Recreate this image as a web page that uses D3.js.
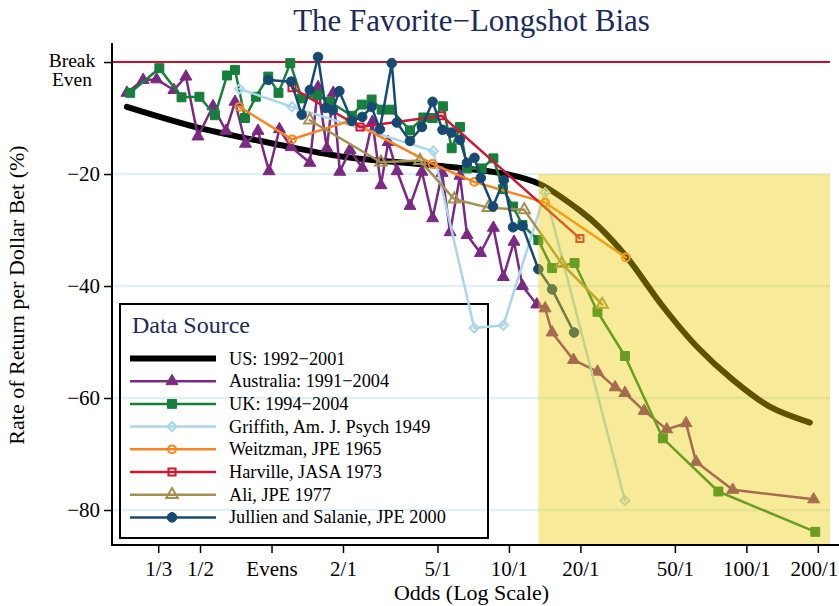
<!DOCTYPE html>
<html>
<head>
<meta charset="utf-8">
<script src="https://cdn.jsdelivr.net/npm/d3@7"></script>
<style>
  body { margin: 0; background: #fff; }
  svg { display: block; font-family: "Liberation Serif", "Times New Roman", serif; }
</style>
</head>
<body>
<svg id="chart"></svg>
<script>
const d3 = window.d3;

const width = 839, height = 606;

// [odds, rate of return %]
const us = [[0.246,-8.0],[0.5,-11.8],[1,-14.5],[2,-16.9],[5,-18.5],[10,-20.1],[13.5,-21.8],[20,-26.6],
  [24.2,-29.6],[31.3,-34.8],[44.6,-43.7],[61.8,-50.8],[88,-56.8],[126,-61.6],[185,-64.4]];

const australia = [[0.246,-5.5],[0.288,-3.2],[0.328,-3.1],[0.388,-5.0],[0.436,-2.6],[0.490,-13.3],[0.567,-7.9],
  [0.643,-12.3],[0.702,-7.1],[0.777,-14.6],[0.877,-12.3],[0.976,-19.5],[1.08,-12.0],[1.21,-15.2],[1.45,-18.0],
  [1.57,-4.5],[1.71,-15.4],[1.82,-5.5],[1.94,-19.6],[2.14,-15.7],[2.41,-18.9],[2.66,-10.7],[2.89,-22.0],
  [3.10,-14.3],[3.38,-19.5],[3.83,-25.7],[4.30,-19.6],[4.77,-27.9],[5.23,-19.8],[5.65,-30.4],[6.22,-20.3],
  [6.66,-30.9],[7.59,-34.1],[8.60,-29.6],[9.47,-38.4],[10.5,-32.1],[11.4,-40.0],[13.1,-43.3],[14.2,-44.0],
  [15.2,-48.3],[18.7,-53.2],[23.6,-55.3],[28.0,-58.1],[30.8,-59.1],[37.1,-62.3],[46.2,-65.6],[55.7,-64.5],
  [61.4,-71.4],[87.6,-76.4],[192,-78.1]];

const uk = [[0.254,-5.5],[0.337,-1.1],[0.418,-6.3],[0.497,-6.2],[0.578,-9.5],[0.650,-2.4],[0.702,-1.4],
  [0.773,-10.0],[0.860,-6.2],[0.969,-2.6],[1.07,-5.5],[1.20,-0.2],[1.34,-6.5],[1.56,-5.9],[1.76,-7.1],
  [2.18,-9.6],[2.40,-7.6],[2.64,-6.7],[2.91,-8.5],[3.19,-8.5],[3.83,-12.2],[4.36,-9.9],[4.77,-10.0],
  [5.28,-7.9],[5.74,-15.4],[6.22,-11.6],[6.66,-19.0],[7.68,-19.0],[8.60,-17.2],[9.44,-22.7],[10.4,-25.8],
  [11.4,-29.1],[13.3,-31.8],[15.2,-36.8],[18.9,-35.9],[23.6,-44.6],[30.8,-52.5],[44.5,-67.2],[76.2,-76.7],
  [195,-83.9]];

const griffith = [[0.733,-4.8],[1.22,-8.0],[4.80,-15.9],[7.14,-47.5],[9.47,-47.0],[14.2,-23.3],[30.8,-78.3]];

const weitzman = [[0.732,-8.0],[1.22,-13.8],[2.14,-10.5],[4.76,-18.2],[7.14,-21.4],[14.2,-25.1],[31.1,-34.9]];

const harville = [[1.22,-4.6],[2.36,-11.6],[5.21,-9.6],[19.9,-31.5]];

const ali = [[1.45,-10.4],[2.89,-17.9],[4.22,-17.6],[5.89,-24.5],[8.19,-26.0],[11.6,-26.4],[16.7,-36.0],[24.7,-43.3]];

const jullien = [[0.969,-3.2],[1.21,-3.5],[1.34,-9.4],[1.45,-5.0],[1.57,0.9],[1.69,-8.2],[1.81,-8.6],[1.93,-5.2],
  [2.18,-10.5],[2.41,-9.8],[2.64,-8.0],[2.86,-12.0],[3.21,-0.2],[3.37,-10.8],[3.83,-14.1],[4.30,-11.6],
  [4.77,-7.1],[5.25,-12.1],[5.72,-12.6],[6.22,-13.9],[6.65,-18.0],[7.16,-17.1],[7.61,-20.7],[8.57,-25.8],
  [9.51,-21.1],[10.4,-29.5],[11.4,-29.3],[13.3,-37.0],[15.2,-40.6],[18.8,-48.3]];

const oddsTicks = [1/3, 1/2, 1, 2, 5, 10, 20, 50, 100, 200];
const oddsLabels = ["1/3", "1/2", "Evens", "2/1", "5/1", "10/1", "20/1", "50/1", "100/1", "200/1"];
const returnTicks = [0, -20, -40, -60, -80];

// shaded longshot region: odds beyond this, returns below -20
const shadeOdds = 13.3;
const shadeReturn = -20;

const series = [
  { name: "US: 1992\u22122001", data: us, color: "#000000", width: 6, curve: true },
  { name: "Australia: 1991\u22122004", data: australia, color: "#7b2a83", symbol: d3.symbolTriangle, size: 62, fill: true },
  { name: "UK: 1994\u22122004", data: uk, color: "#157f3b", symbol: d3.symbolSquare, size: 80, fill: true },
  { name: "Griffith, Am. J. Psych 1949", data: griffith, color: "#a9d6e8", symbol: d3.symbolSquare, size: 42, rotate: 45 },
  { name: "Weitzman, JPE 1965", data: weitzman, color: "#f7841f", symbol: d3.symbolCircle, size: 48 },
  { name: "Harville, JASA 1973", data: harville, color: "#cc1a36", symbol: d3.symbolSquare, size: 50 },
  { name: "Ali, JPE 1977", data: ali, color: "#a58f50", symbol: d3.symbolTriangle, size: 58 },
  { name: "Jullien and Salanie, JPE 2000", data: jullien, color: "#174a72", symbol: d3.symbolCircle, size: 72, fill: true }
];

const svg = d3.select("#chart")
  .attr("width", width)
  .attr("height", height);

const x = d3.scaleLog().domain([0.215, 225]).range([113, 830]);
const y = d3.scaleLinear().domain([-86.25, 3.4]).range([545, 43]);

// gridlines
svg.append("g")
  .selectAll("line")
  .data(returnTicks.filter(d => d < 0))
  .join("line")
  .attr("x1", x.range()[0])
  .attr("x2", x.range()[1])
  .attr("y1", d => y(d))
  .attr("y2", d => y(d))
  .attr("stroke", "#e2f0f4")
  .attr("stroke-width", 2.5);

// legend frame sits under the data, it has no fill
const legendX = 120, legendY = 304;
svg.append("rect")
  .attr("x", legendX)
  .attr("y", legendY)
  .attr("width", 368)
  .attr("height", 234)
  .attr("fill", "none")
  .attr("stroke", "#000")
  .attr("stroke-width", 2);

// break even line
svg.append("line")
  .attr("x1", x.range()[0])
  .attr("x2", x.range()[1])
  .attr("y1", y(0))
  .attr("y2", y(0))
  .attr("stroke", "#c8102e")
  .attr("stroke-width", 2);

function markerPath(s) {
  return d3.symbol().type(s.symbol).size(s.size)();
}

function markerTransform(s, px, py) {
  return `translate(${px},${py})` + (s.rotate ? ` rotate(${s.rotate})` : "");
}

const line = d3.line().x(d => x(d[0])).y(d => y(d[1]));
const smoothLine = d3.line().x(d => x(d[0])).y(d => y(d[1])).curve(d3.curveCatmullRom.alpha(0.5));

series.forEach(s => {
  const g = svg.append("g");
  g.append("path")
    .datum(s.data)
    .attr("d", s.curve ? smoothLine : line)
    .attr("fill", "none")
    .attr("stroke", s.color)
    .attr("stroke-width", s.width || 2.5)
    .attr("stroke-linejoin", "round")
    .attr("stroke-linecap", "round");

  if (s.symbol) {
    g.selectAll("path.mark")
      .data(s.data)
      .join("path")
      .attr("class", "mark")
      .attr("d", markerPath(s))
      .attr("transform", d => markerTransform(s, x(d[0]), y(d[1])))
      .attr("fill", s.fill ? s.color : "none")
      .attr("stroke", s.color)
      .attr("stroke-width", s.fill ? 1 : 2);
  }
});

// yellow overlay on the longshot region
svg.append("rect")
  .attr("x", x(shadeOdds))
  .attr("y", y(shadeReturn))
  .attr("width", x.range()[1] - x(shadeOdds))
  .attr("height", y.range()[0] - y(shadeReturn))
  .attr("fill", "rgb(236,206,0)")
  .attr("fill-opacity", 0.4);

// axes
const xAxis = svg.append("g")
  .attr("transform", `translate(0,${y.range()[0]})`)
  .call(d3.axisBottom(x)
    .tickValues(oddsTicks)
    .tickFormat((d, i) => oddsLabels[i])
    .tickSize(8)
    .tickSizeOuter(0)
    .tickPadding(8));
xAxis.select(".domain").remove();
xAxis.selectAll(".tick line").attr("stroke", "#000").attr("stroke-width", 1.5);
xAxis.selectAll("text").attr("font-size", 21).attr("font-family", "Liberation Serif").attr("fill", "#000");
// keep the last label inside the window
xAxis.selectAll(".tick text").filter(d => d === 200).attr("dx", -4);

const yAxis = svg.append("g")
  .attr("transform", "translate(112,0)")
  .call(d3.axisLeft(y)
    .tickValues(returnTicks)
    .tickFormat(d => d === 0 ? "" : "\u2212" + Math.abs(d))
    .tickSize(8)
    .tickSizeOuter(0)
    .tickPadding(4));
yAxis.select(".domain").remove();
yAxis.selectAll(".tick line").attr("stroke", "#000").attr("stroke-width", 1.5);
yAxis.selectAll("text").attr("font-size", 21).attr("font-family", "Liberation Serif").attr("fill", "#000");

svg.append("line")
  .attr("x1", 112).attr("x2", 112)
  .attr("y1", y.range()[1]).attr("y2", y.range()[0] + 1)
  .attr("stroke", "#000").attr("stroke-width", 2);
svg.append("line")
  .attr("x1", 111).attr("x2", width)
  .attr("y1", y.range()[0]).attr("y2", y.range()[0])
  .attr("stroke", "#000").attr("stroke-width", 2);

const breakEven = svg.append("text")
  .attr("text-anchor", "middle")
  .attr("font-size", 19.5)
  .attr("fill", "#000");
breakEven.append("tspan").attr("x", 72).attr("y", y(0) + 5).text("Break");
breakEven.append("tspan").attr("x", 72).attr("y", y(0) + 24).text("Even");

// titles
svg.append("text")
  .attr("x", (x.range()[0] + x.range()[1]) / 2)
  .attr("y", 31)
  .attr("text-anchor", "middle")
  .attr("font-size", 31)
  .attr("fill", "#1c2b5a")
  .text("The Favorite\u2212Longshot Bias");

svg.append("text")
  .attr("x", (x.range()[0] + x.range()[1]) / 2)
  .attr("y", 600)
  .attr("text-anchor", "middle")
  .attr("font-size", 22)
  .attr("fill", "#000")
  .text("Odds (Log Scale)");

svg.append("text")
  .attr("transform", "translate(24,295) rotate(-90)")
  .attr("text-anchor", "middle")
  .attr("font-size", 22)
  .attr("fill", "#000")
  .text("Rate of Return per Dollar Bet (%)");

// legend entries
const legend = svg.append("g").attr("transform", `translate(${legendX},${legendY})`);
legend.append("text")
  .attr("x", 12)
  .attr("y", 29)
  .attr("font-size", 24)
  .attr("fill", "#1c2b5a")
  .text("Data Source");

const rows = legend.selectAll("g.row")
  .data(series)
  .join("g")
  .attr("class", "row")
  .attr("transform", (d, i) => `translate(0,${54.5 + i * 22.7})`);

rows.append("line")
  .attr("x1", 10).attr("x2", 96)
  .attr("stroke", d => d.color)
  .attr("stroke-width", d => d.width || 2.5);

rows.filter(d => d.symbol)
  .append("path")
  .attr("d", d => markerPath(d))
  .attr("transform", d => markerTransform(d, 52, 0))
  .attr("fill", d => d.fill ? d.color : "none")
  .attr("stroke", d => d.color)
  .attr("stroke-width", d => d.fill ? 1 : 2);

rows.append("text")
  .attr("x", 109)
  .attr("y", 6)
  .attr("font-size", 18.3)
  .attr("fill", "#000")
  .text(d => d.name);
</script>
</body>
</html>
